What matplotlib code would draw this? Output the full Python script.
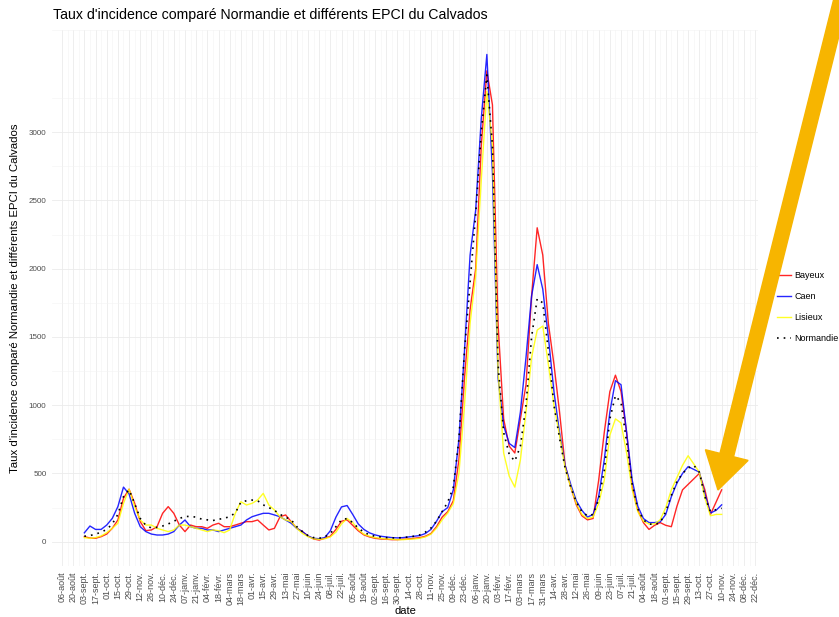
import numpy as np
import pandas as pd
import matplotlib
matplotlib.use("Agg")
import matplotlib.pyplot as plt
from matplotlib.patches import FancyArrow

plt.rcParams['font.family'] = ['Liberation Sans', 'DejaVu Sans']

# weekly samples (2020-09-03 -> 2022-11-10)
dates = pd.date_range("2020-09-03", periods=115, freq="7D")

bayeux = [37, 27, 25, 37, 56, 98, 159, 318, 385, 281, 147, 81, 86, 110, 208,
          257, 208, 122, 74, 122, 110, 110, 98, 122, 135, 110, 110, 122, 135, 147,
          147, 159, 122, 86, 98, 183, 196, 147, 98, 74, 42, 20, 12, 25,
          40, 90, 150, 160, 120, 80, 50, 35, 25, 20,
          18, 15, 15, 18, 20, 25, 30, 40, 60, 110,
          180, 220, 300, 600, 1200, 1700, 2000, 2900, 3450, 3200,
          1600, 900, 700, 650, 900, 1150, 1800, 2300, 2100, 1600,
          1300, 950, 560, 400, 270, 190, 160, 170, 450, 800,
          1100, 1220, 1100, 800, 400, 230, 140, 90, 120, 140,
          120, 110, 260, 380, 420, 460, 500, 380, 200, 290,
          380]

caen = [65, 115, 90, 90, 122, 171, 257, 400, 350, 208, 110, 74, 56, 49, 49,
        56, 74, 122, 159, 110, 98, 98, 86, 86, 74, 86, 98, 110, 122, 159,
        183, 196, 208, 208, 196, 183, 159, 135, 98, 74, 42, 25, 22, 30,
        80, 180, 255, 265, 200, 130, 90, 65, 50, 40,
        35, 30, 28, 30, 35, 40, 45, 60, 90, 150,
        220, 250, 380, 750, 1400, 2100, 2430, 3100, 3570, 2700,
        1200, 850, 720, 690, 950, 1350, 1800, 2030, 1850, 1500,
        1100, 800, 560, 420, 300, 230, 180, 200, 330, 600,
        950, 1180, 1150, 800, 450, 260, 170, 140, 140, 145,
        200, 330, 430, 500, 550, 530, 510, 350, 210, 230,
        270]

lisieux = [30, 25, 30, 42, 66, 98, 135, 281, 385, 257, 159, 122, 122, 98, 86,
           74, 86, 122, 122, 110, 98, 86, 74, 86, 81, 66, 86, 208, 293, 269,
           281, 306, 354, 269, 232, 183, 159, 147, 98, 61, 37, 22, 17, 22,
           35, 70, 130, 170, 140, 90, 55, 40, 30, 25,
           20, 18, 15, 15, 18, 20, 25, 35, 55, 100,
           160, 210, 280, 500, 1000, 1600, 1950, 2650, 3300, 2900,
           1250, 650, 480, 400, 600, 950, 1350, 1550, 1580, 1300,
           1000, 780, 540, 400, 280, 200, 170, 180, 280, 450,
           780, 900, 870, 650, 380, 220, 150, 130, 130, 160,
           250, 380, 470, 560, 630, 570, 510, 320, 190, 200,
           200]

normandie = [40, 45, 55, 70, 90, 130, 200, 330, 380, 280, 170, 120, 100, 105, 115,
             130, 150, 170, 185, 185, 180, 165, 160, 155, 165, 170, 185, 210, 290, 300,
             305, 300, 270, 250, 230, 200, 180, 160, 110, 75, 45, 30, 25, 35,
             60, 110, 160, 170, 140, 100, 70, 50, 40, 35,
             30, 28, 28, 30, 35, 40, 50, 70, 100, 150,
             220, 290, 400, 750, 1400, 1900, 2400, 3000, 3420, 2900,
             1300, 800, 640, 590, 700, 1000, 1500, 1780, 1750, 1400,
             1000, 760, 540, 400, 290, 220, 190, 200, 310, 520,
             900, 1070, 1020, 730, 420, 240, 160, 130, 125, 140,
             220, 340, 440, 500, 540, 560, 510, 330, 220, 235,
             245]

series_names = ["Bayeux", "Caen", "Lisieux", "Normandie"]
series_colors = ["red", "blue", "yellow", "black"]

tick_dates = pd.date_range("2020-08-06", "2022-12-22", freq="14D")
tick_labels = ["06-août", "20-août", "03-sept.", "17-sept.", "01-oct.", "15-oct.",
               "29-oct.", "12-nov.", "26-nov.", "10-déc.", "24-déc.", "07-janv.",
               "21-janv.", "04-févr.", "18-févr.", "04-mars", "18-mars", "01-avr.",
               "15-avr.", "29-avr.", "13-mai", "27-mai", "10-juin", "24-juin",
               "08-juil.", "22-juil.", "05-août", "19-août", "02-sept.", "16-sept.",
               "30-sept.", "14-oct.", "28-oct.", "11-nov.", "25-nov.", "09-déc.",
               "23-déc.", "06-janv.", "20-janv.", "03-févr.", "17-févr.", "03-mars",
               "17-mars", "31-mars", "14-avr.", "28-avr.", "12-mai", "26-mai",
               "09-juin", "23-juin", "07-juil.", "21-juil.", "04-août", "18-août",
               "01-sept.", "15-sept.", "29-sept.", "13-oct.", "27-oct.", "10-nov.",
               "24-nov.", "08-déc.", "22-déc."]
y_ticks = [0, 500, 1000, 1500, 2000, 2500, 3000]

W, H = 839, 617
fig = plt.figure(figsize=(W / 100, H / 100), dpi=100)
ax = fig.add_axes([52 / W, (H - 566) / H, 706 / W, 536.4 / H])

for name, vals, col in zip(series_names, [bayeux, caen, lisieux, normandie], series_colors):
    if name == "Normandie":
        ax.plot(dates, vals, color=col, lw=1.2, ls=(0, (1, 3)), label=name, zorder=4)
    else:
        ax.plot(dates, vals, color=col, lw=1.0, alpha=0.85, label=name, zorder=3)

origin = pd.Timestamp("2020-08-06")
ax.set_xlim(origin - pd.Timedelta(days=12.5), origin + pd.Timedelta(days=871.5))
ax.set_ylim(-178, 3752)

ax.set_xticks(tick_dates)
ax.set_xticklabels(tick_labels, rotation=90, fontsize=6.5, color="#4D4D4D", va="top")
ax.set_xticks(tick_dates[:-1] + pd.Timedelta(days=7), minor=True)
ax.set_yticks(y_ticks)
ax.set_yticklabels([str(v) for v in y_ticks], fontsize=5.8, color="#4D4D4D")
ax.set_yticks(np.arange(250, 3751, 500), minor=True)
ax.tick_params(which="both", length=0)
ax.tick_params(axis="x", pad=4)
ax.tick_params(axis="y", pad=4)

ax.grid(which="major", color="#EBEBEB", lw=0.6)
ax.grid(which="minor", color="#F3F3F3", lw=0.4)
ax.set_axisbelow(True)
for s in ax.spines.values():
    s.set_visible(False)

fig.text(53 / W, 1 - 15 / H, "Taux d'incidence comparé Normandie et différents EPCI du Calvados",
         ha="left", va="center", fontsize=10.2)
fig.text(405 / W, 1 - 611 / H, "date", ha="center", va="center", fontsize=8)
fig.text(15 / W, 1 - 298 / H, "Taux d'incidence comparé Normandie et différents EPCI du Calvados",
         ha="center", va="center", rotation=90, fontsize=8.2)

fig.legend(loc="center left", bbox_to_anchor=(773 / W, 1 - 307 / H), frameon=False,
           fontsize=6.5, handlelength=1.6, handletextpad=0.4, labelspacing=1.35,
           borderaxespad=0)

# orange arrow pointing at the last values
px = fig.dpi_scale_trans
x0, y0 = 842 / 100, (H + 5) / 100
x1, y1 = 718 / 100, (H - 490) / 100
arrow = FancyArrow(x0, y0, x1 - x0, y1 - y0, width=0.14, head_width=0.44,
                   head_length=0.36, length_includes_head=True,
                   color="#F7B500", transform=px, zorder=10)
fig.patches.append(arrow)

fig.savefig("out.png", dpi=100)
